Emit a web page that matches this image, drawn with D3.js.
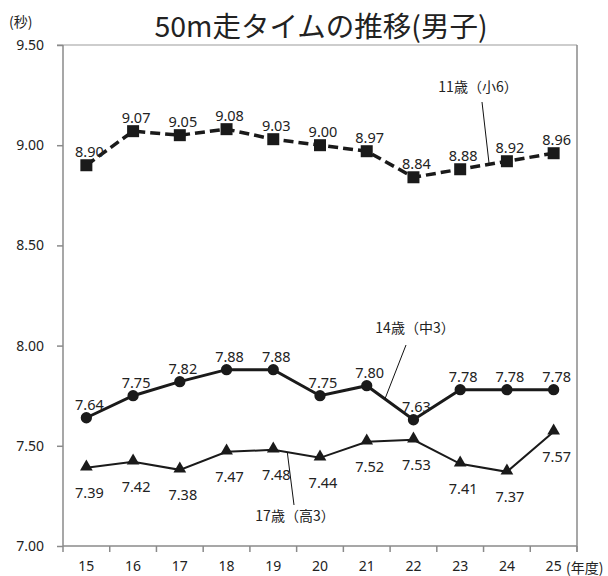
<!DOCTYPE html>
<html>
<head>
<meta charset="utf-8">
<script src="https://cdn.jsdelivr.net/npm/d3@7"></script>
<style>
  html, body { margin: 0; padding: 0; background: #fff; }
  svg { display: block; }
  text { font-family: "Noto Sans CJK JP", "Noto Sans", sans-serif; fill: #222; }
</style>
</head>
<body>
<svg id="chart" width="608" height="576"></svg>
<script>
// ---- data ----
const categories = ["15", "16", "17", "18", "19", "20", "21", "22", "23", "24", "25"];
const age11 = [8.90, 9.07, 9.05, 9.08, 9.03, 9.00, 8.97, 8.84, 8.88, 8.92, 8.96];
const age14 = [7.64, 7.75, 7.82, 7.88, 7.88, 7.75, 7.80, 7.63, 7.78, 7.78, 7.78];
const age17 = [7.39, 7.42, 7.38, 7.47, 7.48, 7.44, 7.52, 7.53, 7.41, 7.37, 7.57];
const yTicks = [7.00, 7.50, 8.00, 8.50, 9.00, 9.50];
const seriesNames = ["11歳（小6）", "14歳（中3）", "17歳（高3）"];

// ---- layout ----
const svg = d3.select("#chart");
const pL = 63, pR = 577, pT = 45, pB = 546;

const x = d3.scaleBand().domain(categories).range([pL, pR]).paddingInner(0).paddingOuter(0);
const y = d3.scaleLinear().domain([7.0, 9.5]).range([pB, pT]);
const cx = c => x(c) + x.bandwidth() / 2;

// title
svg.append("text").attr("x", 321).attr("y", 37).attr("text-anchor", "middle")
  .style("font-size", "28.5px").text("50m走タイムの推移(男子)");
// y unit
svg.append("text").attr("x", 9).attr("y", 27).style("font-size", "14px").text("(秒)");

// plot border (top/right)
svg.append("line").attr("x1", pL - 6).attr("x2", pR).attr("y1", pT).attr("y2", pT)
  .attr("stroke", "#bdbdbd").attr("stroke-width", 1.5);
svg.append("line").attr("x1", pR).attr("x2", pR).attr("y1", pT).attr("y2", pB + 6)
  .attr("stroke", "#8a8a8a").attr("stroke-width", 1.5);

// y axis
const yAxis = svg.append("g").attr("transform", `translate(${pL},0)`)
  .call(d3.axisLeft(y).tickValues(yTicks).tickFormat(d3.format(".2f")).tickSize(6).tickPadding(13));
yAxis.selectAll("path, line").attr("stroke", "#8a8a8a").attr("stroke-width", 1.5);
yAxis.select(".domain").attr("d", `M0,${pT}V${pB}`);
yAxis.selectAll("text").style("font-size", "14px").style("font-family", "'Noto Sans', sans-serif").attr("fill", "#222");

// x axis
const xAxis = svg.append("g").attr("transform", `translate(0,${pB})`)
  .call(d3.axisBottom(x).tickSize(0).tickPadding(15));
xAxis.select(".domain").attr("stroke", "#8a8a8a").attr("stroke-width", 1.5)
  .attr("d", `M${pL},0H${pR}`);
xAxis.selectAll("text").style("font-size", "14px").style("font-family", "'Noto Sans', sans-serif").attr("fill", "#222");
// boundary ticks
const bounds = categories.map(c => x(c)).concat([x(categories[categories.length - 1]) + x.bandwidth()]);
xAxis.selectAll("line.bt").data(bounds).enter().append("line").attr("class", "bt")
  .attr("x1", d => d).attr("x2", d => d).attr("y1", 0).attr("y2", 6)
  .attr("stroke", "#8a8a8a").attr("stroke-width", 1.5);
svg.append("text").attr("x", 566).attr("y", 573).style("font-size", "14px").text("(年度)");

// lines
const line = d3.line().x((d, i) => cx(categories[i])).y(d => y(d));
svg.append("path").datum(age11).attr("d", line).attr("fill", "none")
  .attr("stroke", "#1a1a1a").attr("stroke-width", 3.5).attr("stroke-dasharray", "10,5");
svg.append("path").datum(age14).attr("d", line).attr("fill", "none")
  .attr("stroke", "#1a1a1a").attr("stroke-width", 3);
svg.append("path").datum(age17).attr("d", line).attr("fill", "none")
  .attr("stroke", "#1a1a1a").attr("stroke-width", 2);

// markers
svg.append("g").selectAll("path").data(age11).enter().append("path")
  .attr("transform", (d, i) => `translate(${cx(categories[i])},${y(d)})`)
  .attr("d", d3.symbol(d3.symbolSquare, 144)).attr("fill", "#1a1a1a");
svg.append("g").selectAll("path").data(age14).enter().append("path")
  .attr("transform", (d, i) => `translate(${cx(categories[i])},${y(d)})`)
  .attr("d", d3.symbol(d3.symbolCircle, 100)).attr("fill", "#1a1a1a");
svg.append("g").selectAll("path").data(age17).enter().append("path")
  .attr("transform", (d, i) => `translate(${cx(categories[i])},${y(d) - 1})`)
  .attr("d", d3.symbol(d3.symbolTriangle, 70)).attr("fill", "#1a1a1a");

// value labels
function labels(data, dy) {
  svg.append("g").selectAll("text").data(data).enter().append("text")
    .attr("x", (d, i) => cx(categories[i]) + 3).attr("y", d => y(d) + dy)
    .attr("text-anchor", "middle").style("font-size", "14.5px")
    .style("font-family", "'Noto Sans', sans-serif").text(d => d3.format(".2f")(d));
}
labels(age11, -8);
labels(age14, -8);
labels(age17, 30);

// series annotations (leader lines anchored on the series between two categories)
function annotate(name, data, i, frac, tx, ty, lx, ly) {
  const ax = cx(categories[i]) + frac * x.bandwidth();
  const ay = y(data[i] + frac * (data[i + 1] - data[i]));
  svg.append("line").attr("x1", ax).attr("y1", ay).attr("x2", lx).attr("y2", ly)
    .attr("stroke", "#111").attr("stroke-width", 1);
  svg.append("text").attr("x", tx).attr("y", ty).attr("text-anchor", "middle")
    .style("font-size", "14px").text(name);
}
annotate(seriesNames[0], age11, 8, 0.62, 478, 92, 482, 102);
annotate(seriesNames[1], age14, 6, 0.39, 415, 333, 406, 345);
annotate(seriesNames[2], age17, 4, 0.30, 295, 521, 294, 505);
</script>
</body>
</html>
